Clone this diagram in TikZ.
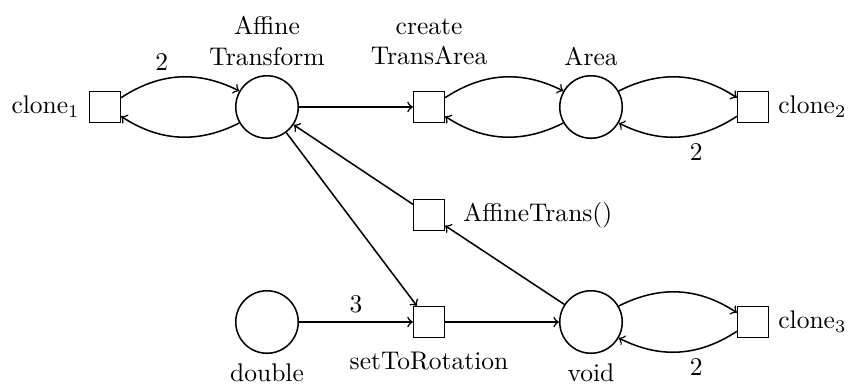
\documentclass[tikz,border=0pt]{standalone}
\begin{document}
\begin{tikzpicture}[x=0.392pt,y=0.392pt,semithick,
  place/.style={circle,draw,minimum size=24.5pt,inner sep=0pt},
  transition/.style={rectangle,draw,minimum size=12pt,inner sep=0pt},
  arc/.style={->},
  every label/.style={align=center}]
\useasboundingbox (0,0) rectangle (848,385);

% places and transitions
\node[transition,label=left:clone$_1$] (c1) at (105,278) {};
\node[place,label=above:{Affine\\Transform}] (at) at (267,278) {};
\node[transition,label={[label distance=6.5pt]above:{create\\TransArea}}] (cta) at (429,278) {};
\node[place,label=above:Area] (area) at (591,278) {};
\node[transition,label=right:clone$_2$] (c2) at (753,278) {};
\node[transition,label={[label distance=3.5pt]right:AffineTrans()}] (atr) at (429,170) {};
\node[place,label=below:double] (dbl) at (267,63) {};
\node[transition,label={[label distance=2pt]below:setToRotation}] (str) at (429,63) {};
\node[place,label=below:void] (void) at (591,63) {};
\node[transition,label=right:clone$_3$] (c3) at (753,63) {};

% arcs
\draw[arc] (c1) to[bend left] node[pos=0.35,above]{2} (at);
\draw[arc] (at) to[bend left] (c1);
\draw[arc] (at) -- (cta);
\draw[arc] (cta) to[bend left] (area);
\draw[arc] (area) to[bend left] (cta);
\draw[arc] (area) to[bend left] (c2);
\draw[arc] (c2) to[bend left] node[pos=0.35,below]{2} (area);
\draw[arc] (atr) -- (at);
\draw[arc] (at) -- (str);
\draw[arc] (dbl) -- node[above]{3} (str);
\draw[arc] (str) -- (void);
\draw[arc] (void) -- (atr);
\draw[arc] (void) to[bend left] (c3);
\draw[arc] (c3) to[bend left] node[pos=0.35,below]{2} (void);
\end{tikzpicture}
\end{document}
